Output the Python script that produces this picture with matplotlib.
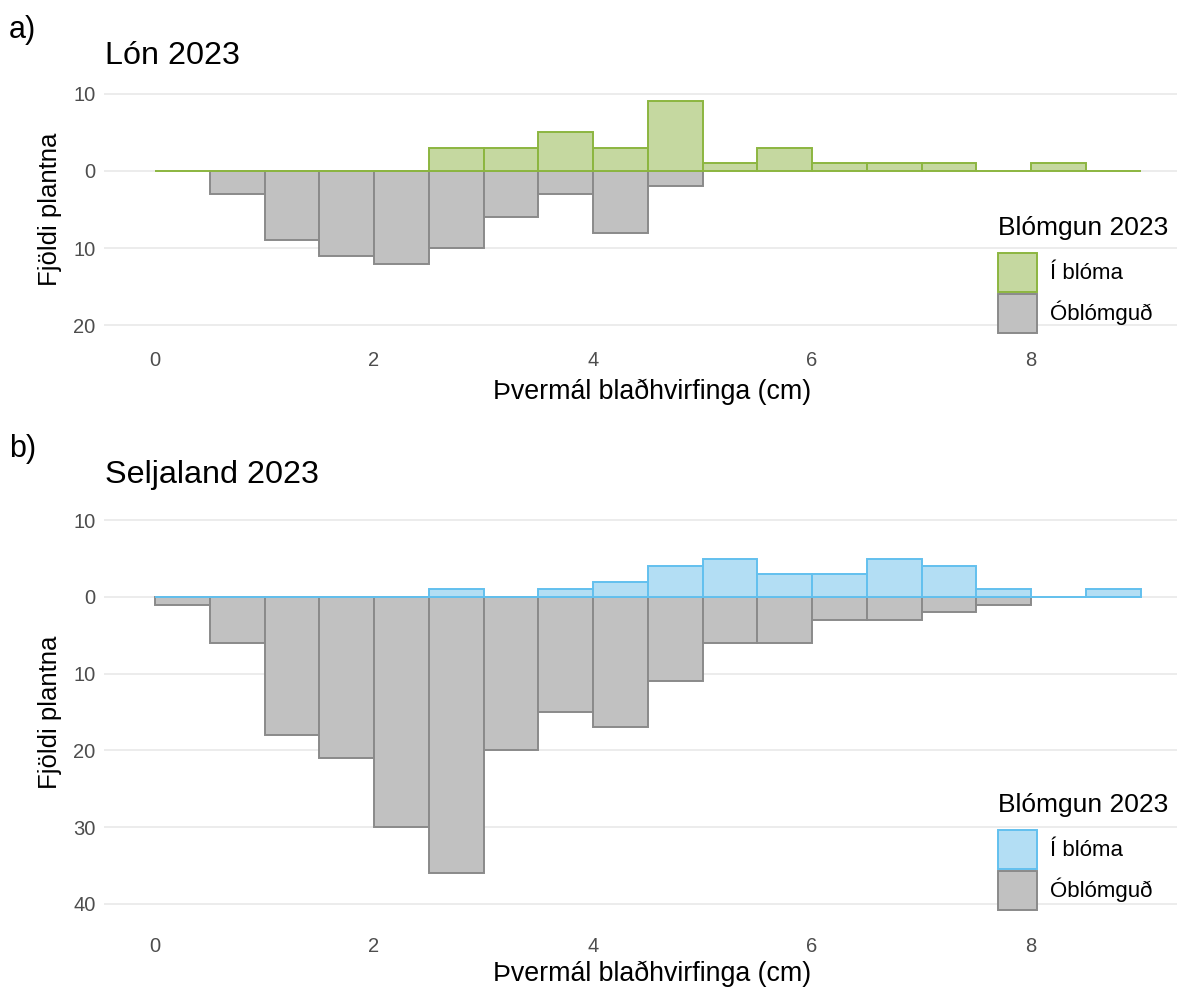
import numpy as np
import matplotlib
matplotlib.use("Agg")
import matplotlib.pyplot as plt
from matplotlib.patches import Patch

plt.rcParams["font.family"] = ["Liberation Sans", "DejaVu Sans"]

# Rosette diameter bins (cm), width 0.5 from 0 to 9
bin_edges = np.arange(0, 9.01, 0.5)

# Lón 2023 counts per bin (None = bin not drawn)
lon_flowering = [0, 0, 0, 0, 0, 3, 3, 5, 3, 9, 1, 3, 1, 1, 1, 0, 1, 0]
lon_vegetative = [None, 3, 9, 11, 12, 10, 6, 3, 8, 2,
                  None, None, None, None, None, None, None, None]

# Seljaland 2023 counts per bin
sel_flowering = [0, 0, 0, 0, 0, 1, 0, 1, 2, 4, 5, 3, 3, 5, 4, 1, 0, 1]
sel_vegetative = [1, 6, 18, 21, 30, 36, 20, 15, 17, 11, 6, 6, 3, 3, 2, 1,
                  None, None]

panel_titles = ["Lón 2023", "Seljaland 2023"]
panel_tags = ["a)", "b)"]
legend_title = "Blómgun 2023"
legend_labels = ["Í blóma", "Óblómguð"]
x_label = "Þvermál blaðhvirfinga (cm)"
y_label = "Fjöldi plantna"
x_ticks = [0, 2, 4, 6, 8]
lon_y_ticks = [10, 0, -10, -20]
sel_y_ticks = [10, 0, -10, -20, -30, -40]

green_fill, green_edge = "#c5d8a0", "#8cb640"
blue_fill, blue_edge = "#b3def4", "#62c0ee"
grey_fill, grey_edge = "#c1c1c1", "#8a8a8a"

W, H = 1177, 988
fig = plt.figure(figsize=(W / 100, H / 100), dpi=100)


def px_axes(left, top, right, bottom):
    return fig.add_axes([left / W, 1 - bottom / H, (right - left) / W, (bottom - top) / H])


def draw_bins(ax, counts, sign, fill, edge):
    lefts = bin_edges[:-1]
    for x0, c in zip(lefts, counts):
        if c is None:
            continue
        ax.bar(x0, sign * c, width=0.5, align="edge", color=fill,
               edgecolor=edge, linewidth=1.4, zorder=3)


def style_axes(ax, yticks, ylim, xlabel_y):
    ax.set_xlim(-0.466, 9.333)
    ax.set_ylim(*ylim)
    ax.set_xticks(x_ticks)
    ax.set_yticks(yticks)
    ax.set_yticklabels([str(abs(t)) for t in yticks])
    ax.tick_params(axis="both", length=0, labelsize=14.5, colors="#4d4d4d", pad=6)
    ax.tick_params(axis="x", pad=10)
    for s in ax.spines.values():
        s.set_visible(False)
    ax.grid(axis="y", color="#ebebeb", linewidth=1.3, zorder=0)
    ax.grid(axis="x", visible=False)
    ax.set_axisbelow(True)
    ax.set_xlabel(x_label, fontsize=19.3, color="black")
    ax.xaxis.set_label_coords((652 - 104) / (1177 - 104), xlabel_y)
    ax.set_ylabel(y_label, fontsize=18.5, color="black", labelpad=8)


def add_legend(ax, fill, edge, anchor_y):
    handles = [Patch(facecolor=fill, edgecolor=edge, linewidth=1.4),
               Patch(facecolor=grey_fill, edgecolor=grey_edge, linewidth=1.4)]
    leg = ax.legend(handles, legend_labels, title=legend_title, loc="upper left",
                    bbox_to_anchor=(998 / W, 1 - anchor_y / H),
                    bbox_transform=fig.transFigure, frameon=False,
                    fontsize=16, title_fontsize=19, handlelength=1.75,
                    handleheight=2.35, labelspacing=0.08, handletextpad=0.6,
                    borderpad=0, borderaxespad=0)
    leg._legend_box.align = "left"
    leg._legend_box.sep = 9
    leg.set_zorder(5)


# a) Lón
ax1 = px_axes(104, 82, 1177, 337)
draw_bins(ax1, lon_vegetative, -1, grey_fill, grey_edge)
draw_bins(ax1, lon_flowering, 1, green_fill, green_edge)
style_axes(ax1, lon_y_ticks, (-21.5, 11.5), -0.165)
add_legend(ax1, green_fill, green_edge, 216)

# b) Seljaland
ax2 = px_axes(104, 501, 1177, 923)
draw_bins(ax2, sel_vegetative, -1, grey_fill, grey_edge)
draw_bins(ax2, sel_flowering, 1, blue_fill, blue_edge)
style_axes(ax2, sel_y_ticks, (-42.5, 12.5), -0.088)
add_legend(ax2, blue_fill, blue_edge, 793)

fig.text(105 / W, 1 - 56 / H, panel_titles[0], fontsize=23.3, va="center", ha="left")
fig.text(105 / W, 1 - 475 / H, panel_titles[1], fontsize=23.3, va="center", ha="left")
fig.text(9 / W, 1 - 30 / H, panel_tags[0], fontsize=22, va="center", ha="left")
fig.text(9 / W, 1 - 449 / H, panel_tags[1], fontsize=22, va="center", ha="left")

fig.savefig("out.png", dpi=100, facecolor="white")
